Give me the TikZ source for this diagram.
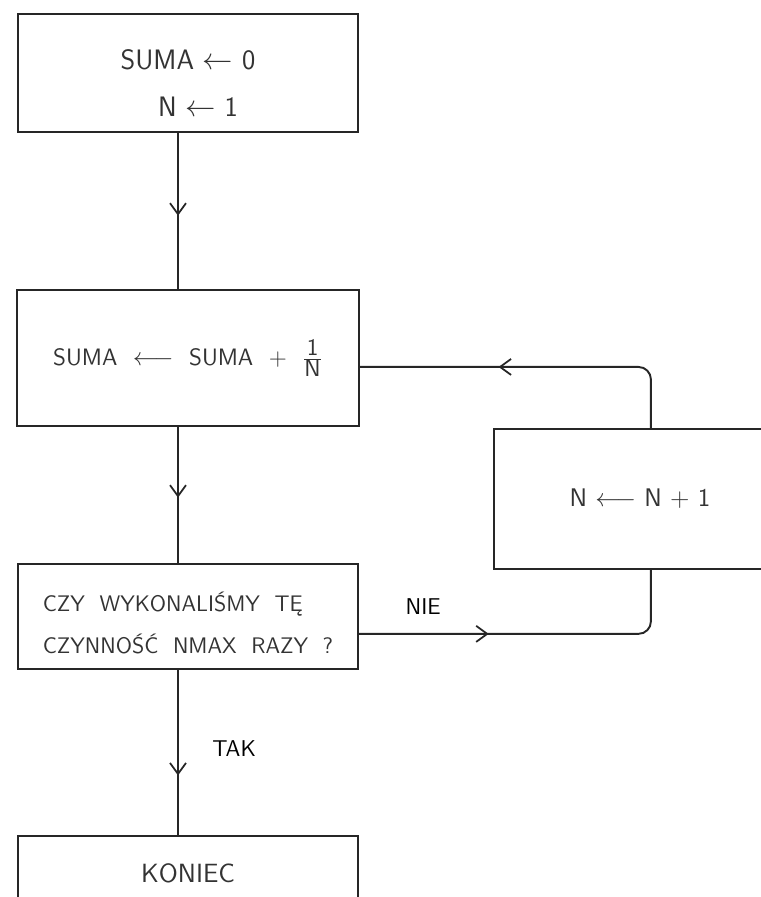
\documentclass[tikz,border=0pt]{standalone}
\usepackage{tikz}
\usetikzlibrary{positioning, arrows.meta, decorations.markings}

\begin{document}
\begin{tikzpicture}[
  node distance=2.72cm and 2.66cm,
  stepbox/.style={rectangle, draw=black!85, line width=1.1pt, minimum width=6.8cm, text centered, text=black!80, font=\sffamily},
  flow/.style={draw=black!85, line width=1.1pt, rounded corners=0.25cm},
  midarrow/.style={flow, postaction={decorate}, decoration={markings, mark=at position #1 with {\arrow{Straight Barb[length=2.2mm, width=3.2mm, line width=1pt]}}}},
  every node/.style={align=center}
]
\useasboundingbox (0,0) rectangle (15.22,-17.94);

%% Start: initial values
\node[stepbox, minimum height=2.36cm, font=\sffamily\fontsize{16}{20}\selectfont] (init) at (3.76,-1.46) {\rule{0pt}{0.8cm}SUMA $\leftarrow$ 0\\[7pt]\hspace*{0.4cm}N $\leftarrow$ 1};

%% Main loop body
\node[stepbox, minimum width=6.84cm, minimum height=2.72cm, below=3.12cm of init, font=\sffamily\fontsize{13.5}{16}\selectfont] (sum) {SUMA \ $\longleftarrow$ \ SUMA \ + \ $\frac{\textsf{1}}{\textsf{N}}$};
\node[stepbox, minimum height=2.1cm, below=2.72cm of sum, align=left, font=\sffamily\fontsize{12.8}{24}\selectfont] (check) {\rule{0pt}{0.65cm}CZY \ WYKONALIŚMY \ TĘ\\CZYNNOŚĆ \ NMAX \ RAZY \ ?};

%% Right branch: next N
\node[stepbox, minimum width=5.74cm, minimum height=2.8cm, below right=0.02cm and 2.66cm of sum, font=\sffamily\fontsize{14.5}{16}\selectfont] (next) {\hspace*{0.1cm}N $\longleftarrow$ N + 1};

%% End
\node[stepbox, minimum height=1.5cm, below=3.3cm of check, font=\sffamily\fontsize{15}{18}\selectfont] (stop) {KONIEC};

%% Connections
\draw[midarrow=0.53] ([xshift=-0.2cm]init.south) -- ([xshift=-0.2cm]sum.north);
\draw[midarrow=0.52] ([xshift=-0.2cm]sum.south) -- ([xshift=-0.2cm]check.north);
\draw[midarrow=0.64] ([xshift=-0.2cm]check.south) -- node[right=0.55cm, pos=0.48, font=\sffamily\fontsize{13}{15}\selectfont] (yes) {TAK} ([xshift=-0.2cm]stop.north);
\draw[midarrow=0.37] ([yshift=-0.35cm]check.east) -| node[above=0.25cm, pos=0.11, font=\sffamily\fontsize{13}{15}\selectfont] (no) {NIE} ([xshift=0.27cm]next.south);
\draw[midarrow=0.6] ([xshift=0.27cm]next.north) |- ([yshift=-0.18cm]sum.east);

\end{tikzpicture}
\end{document}
